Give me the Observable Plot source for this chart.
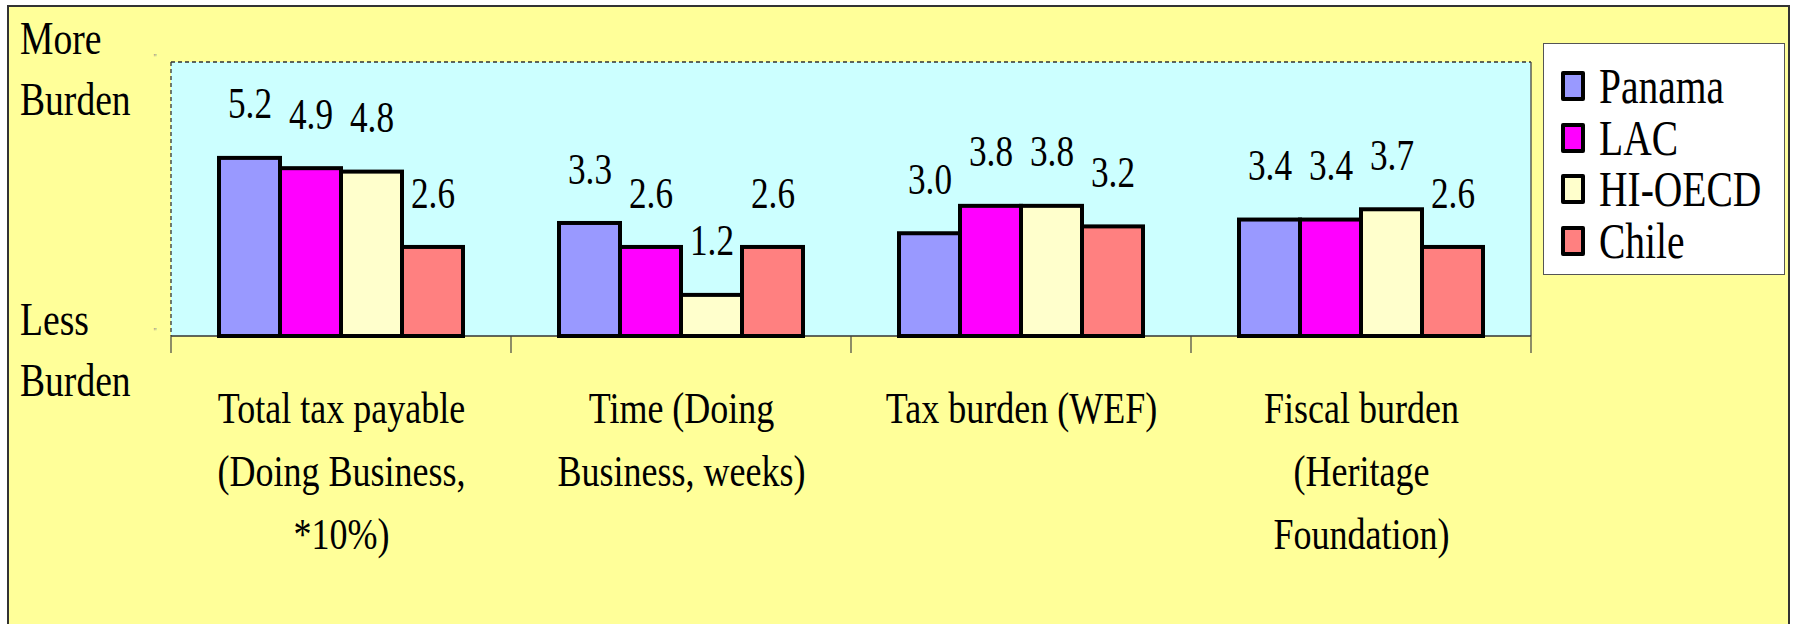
<!DOCTYPE html>
<html>
<head>
<meta charset="utf-8">
<script src="https://cdn.jsdelivr.net/npm/d3@7"></script>
<script src="https://cdn.jsdelivr.net/npm/@observablehq/plot@0.6"></script>
<style>
html, body { margin: 0; padding: 0; background: #fff; width: 1795px; height: 624px; overflow: hidden; }
#frame { position: absolute; left: 7px; top: 5px; width: 1779px; height: 660px; background: #FFFF99; border: 2px solid #333; }
#chart { position: absolute; left: 0; top: 0; }
#legend { position: absolute; left: 1543px; top: 43px; width: 242px; height: 232px; box-sizing: border-box; overflow: hidden;
  background: #fff; border: 1.5px solid #555; padding-top: 16px; font-family: "Liberation Serif", "Tinos", "Times New Roman", "DejaVu Serif", "Noto Serif", serif; }
.row { display: flex; align-items: center; height: 51.7px; width: 400px; }
.sw { flex: none; width: 24px; height: 30px; box-sizing: border-box; border: 4px solid #000; margin-left: 17px; border-radius: 2px; }
.lb { flex: none; margin-left: 14px; font-size: 50px; line-height: 1; color: #000; transform: scaleX(0.79); transform-origin: left center; white-space: nowrap; }
svg text { font-family: "Liberation Serif", "Tinos", "Times New Roman", "DejaVu Serif", "Noto Serif", serif; }
</style>
</head>
<body>
<div id="frame"></div>
<div id="chart"></div>
<div id="legend"></div>
<script>
// ---- data ----
const categories = [
  "Total tax payable\n(Doing Business,\n*10%)",
  "Time (Doing\nBusiness, weeks)",
  "Tax burden (WEF)",
  "Fiscal burden\n(Heritage\nFoundation)"
];
const series = ["Panama", "LAC", "HI-OECD", "Chile"];
const colors = ["#9999FF", "#FF00FF", "#FFFFCC", "#FF8080"];
const panama = [5.2, 3.3, 3.0, 3.4];
const lac = [4.9, 2.6, 3.8, 3.4];
const hiOecd = [4.8, 1.2, 3.8, 3.7];
const chile = [2.6, 2.6, 3.2, 2.6];
const yTickValues = [0, 8];
const yTickLabels = ["Less\nBurden", "More\nBurden"];

// ---- build table ----
const seriesValues = [panama, lac, hiOecd, chile];
const rows = categories.flatMap((c, i) => series.map((s, j) => ({category: c, series: s, value: seriesValues[j][i]})));

const plot = Plot.plot({
  width: 1795,
  height: 624,
  marginLeft: 170,
  marginRight: 263,
  marginTop: 62,
  marginBottom: 288,
  style: {background: "transparent", color: "#000", overflow: "visible"},
  fx: {domain: categories, paddingInner: 0.277, paddingOuter: 0.1385, axis: null, label: null},
  x: {domain: series, padding: 0, axis: null, label: null},
  y: {domain: [0, 8], axis: null},
  color: {domain: series, range: colors},
  marks: [
    Plot.barY(rows, {fx: "category", x: "series", y: "value", fill: "series", stroke: "#000", strokeWidth: 4}),
    Plot.text(rows, {fx: "category", x: "series", y: "value", text: d => d.value.toFixed(1), dy: -54, fontSize: 44, fill: "#000"}),
    Plot.text(categories, {fx: d => d, text: d => d, frameAnchor: "bottom", lineAnchor: "top", dy: 42, fontSize: 45, lineHeight: 1.4, fill: "#000"})
  ]
});
document.getElementById("chart").appendChild(plot);

// ---- guides drawn from the library's scales ----
const svgEl = plot.tagName.toLowerCase() === "svg" ? plot : plot.querySelector("svg");
const svg = d3.select(svgEl);
const fxS = plot.scale("fx");
const yS = plot.scale("y");
const y0 = yS.apply(yTickValues[0]), yTop = yS.apply(yTickValues[1]);
const half = (fxS.step - fxS.bandwidth) / 2;
const bounds = categories.map(c => fxS.apply(c) - half);
bounds.push(fxS.apply(categories[categories.length - 1]) + fxS.bandwidth + half);
const xL = bounds[0], xR = bounds[bounds.length - 1];

// plot-area background (behind everything)
const bg = svg.insert("g", ":first-child");
bg.append("rect").attr("x", xL).attr("y", yTop).attr("width", xR - xL).attr("height", y0 - yTop).attr("fill", "#CCFFFF");
bg.append("line").attr("x1", xL).attr("x2", xR).attr("y1", yTop).attr("y2", yTop)
  .attr("stroke", "#333").attr("stroke-width", 1.3).attr("stroke-dasharray", "4,3");
bg.append("line").attr("x1", xL).attr("x2", xL).attr("y1", yTop).attr("y2", y0)
  .attr("stroke", "#333").attr("stroke-width", 1.3).attr("stroke-dasharray", "4,3");
bg.append("line").attr("x1", xR).attr("x2", xR).attr("y1", yTop).attr("y2", y0)
  .attr("stroke", "#444").attr("stroke-width", 1.3);
bg.append("line").attr("x1", xL).attr("x2", xR).attr("y1", y0).attr("y2", y0)
  .attr("stroke", "#333").attr("stroke-width", 1.6);
bg.selectAll("line.tk").data(bounds).join("line").attr("class", "tk")
  .attr("x1", d => d).attr("x2", d => d).attr("y1", y0).attr("y2", y0 + 17)
  .attr("stroke", "#444").attr("stroke-width", 1.2);

// y tick labels ("More Burden" / "Less Burden")
const g = svg.append("g");
const yFont = 47, yLine = 1.3 * yFont;
yTickValues.forEach((v, i) => {
  const lines = yTickLabels[i].split("\n");
  const t = g.append("text").attr("transform", `translate(20,${yS.apply(v) + (i === 0 ? 14 : 7)})`)
    .attr("font-size", yFont).attr("fill", "#000").attr("text-anchor", "start");
  lines.forEach((ln, k) => {
    t.append("tspan").attr("x", 0)
      .attr("dy", k === 0 ? (-(lines.length - 1) / 2 * yLine + 0.32 * yFont) : yLine)
      .text(ln);
  });
  g.append("text").attr("transform", `translate(${xL - 16},${yS.apply(v) - 1})`)
    .attr("font-size", 11).attr("fill", "#888").attr("text-anchor", "middle").text("''");
});

// ---- condense text horizontally like the original ----
svg.selectAll("text").each(function() {
  const t = this.getAttribute("transform");
  if (t) {
    this.setAttribute("transform", t + " scale(0.8,1)");
  } else {
    const x = +this.getAttribute("x") || 0, y = +this.getAttribute("y") || 0;
    this.removeAttribute("x"); this.removeAttribute("y");
    this.setAttribute("transform", `translate(${x},${y}) scale(0.8,1)`);
  }
});

// ---- legend ----
const legend = d3.select("#legend");
series.forEach((s, i) => {
  const r = legend.append("div").attr("class", "row");
  r.append("div").attr("class", "sw").style("background", colors[i]);
  r.append("div").attr("class", "lb").text(s);
});
</script>
</body>
</html>
